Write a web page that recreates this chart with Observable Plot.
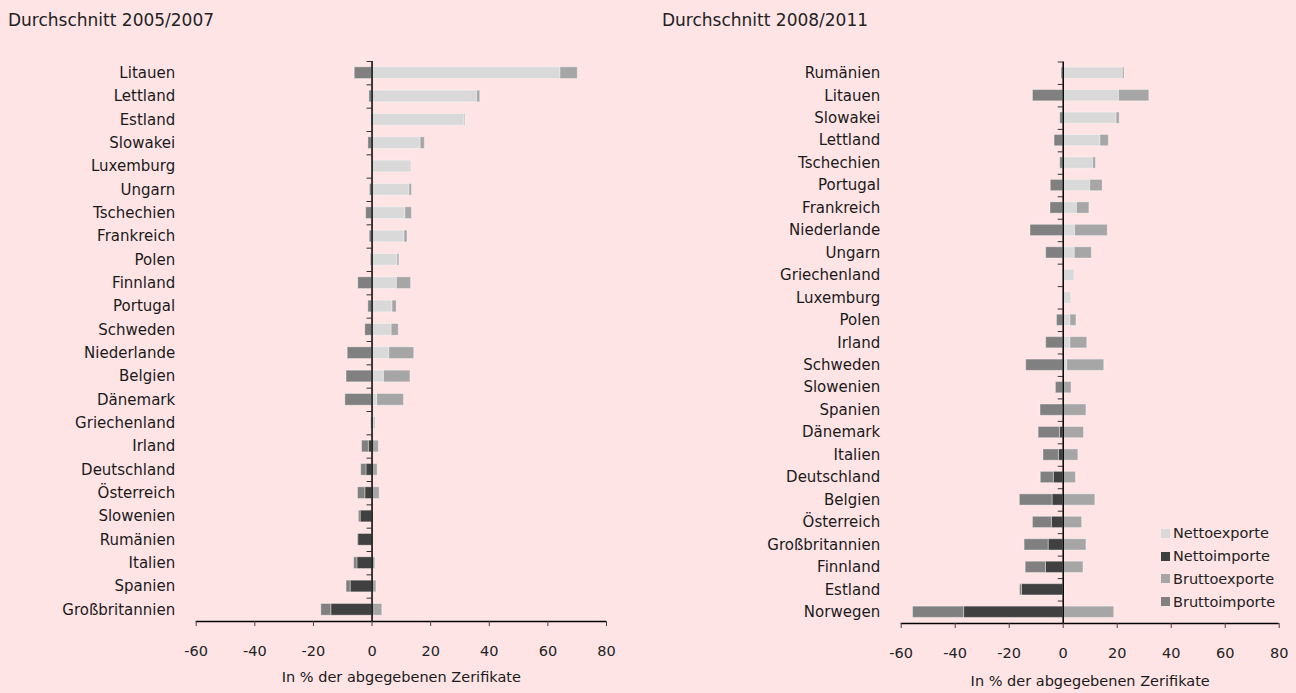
<!DOCTYPE html>
<html>
<head>
<meta charset="utf-8">
<script src="https://cdn.jsdelivr.net/npm/d3@7"></script>
<script src="https://cdn.jsdelivr.net/npm/@observablehq/plot@0.6"></script>
<style>
  html, body { margin: 0; padding: 0; }
  body { width: 1296px; height: 693px; background: rgb(255,228,230); position: relative; overflow: hidden;
         font-family: "DejaVu Sans", sans-serif; color: #222; }
  .title { position: absolute; font-size: 17px; line-height: 17px; white-space: nowrap; }
  .panel { position: absolute; top: 0; }
  .legend { position: absolute; left: 1161px; top: 522px; font-size: 14.5px; }
  .legend .row { height: 22.8px; display: flex; align-items: center; white-space: nowrap; }
  .legend .sw { width: 9px; height: 9px; margin-right: 3px; }
</style>
</head>
<body>
<div class="title" style="left:8px; top:12px;">Durchschnitt 2005/2007</div>
<div class="title" style="left:662px; top:12px;">Durchschnitt 2008/2011</div>
<div id="left" class="panel" style="left:0px;"></div>
<div id="right" class="panel" style="left:648px;"></div>
<div id="legend" class="legend"></div>
<script>
// ---------- Data ----------
const seriesNames = ["Nettoexporte", "Nettoimporte", "Bruttoexporte", "Bruttoimporte"];
const seriesColors = ["#d9d9d9", "#404040", "#a6a6a6", "#808080"];
const xTicks = [-60, -40, -20, 0, 20, 40, 60, 80];
const axisTitle = "In % der abgegebenen Zerifikate";

// Durchschnitt 2005/2007
const leftCountries = ["Litauen","Lettland","Estland","Slowakei","Luxemburg","Ungarn","Tschechien","Frankreich","Polen","Finnland","Portugal","Schweden","Niederlande","Belgien","Dänemark","Griechenland","Irland","Deutschland","Österreich","Slowenien","Rumänien","Italien","Spanien","Großbritannien"];
const leftNettoexporte  = [64.3, 35.9, 31.5, 16.6, 13.5, 12.8, 11.4, 11.1, 8.7, 8.5, 7.0, 6.7, 5.9, 4.1, 1.8, 0.7, 0, 0, 0, 0, 0, 0, 0, 0];
const leftNettoimporte  = [0, 0, 0, 0, 0, 0, 0, 0, 0, 0, 0, 0, 0, 0, 0, 0, 1.1, 1.9, 2.3, 3.9, 4.7, 5.0, 7.3, 13.9];
const leftBruttoexporte = [5.9, 1.0, 0.3, 1.4, 0, 0.8, 2.2, 1.0, 0.6, 4.8, 1.4, 2.4, 8.5, 9.0, 9.1, 0.4, 2.3, 1.9, 2.6, 0.45, 0.2, 1.1, 1.5, 3.5];
const leftBruttoimporte = [5.9, 0.9, 0.2, 1.25, 0, 0.7, 2.0, 0.8, 0.4, 4.7, 1.25, 2.3, 8.3, 8.7, 9.1, 0.3, 2.3, 1.8, 2.5, 0.6, 0.2, 1.1, 1.4, 3.4];

// Durchschnitt 2008/2011
const rightCountries = ["Rumänien","Litauen","Slowakei","Lettland","Tschechien","Portugal","Frankreich","Niederlande","Ungarn","Griechenland","Luxemburg","Polen","Irland","Schweden","Slowenien","Spanien","Dänemark","Italien","Deutschland","Belgien","Österreich","Großbritannien","Finnland","Estland","Norwegen"];
const rightNettoexporte  = [22.1, 20.7, 19.8, 13.8, 11.1, 10.0, 5.1, 4.4, 4.3, 4.2, 3.0, 2.7, 2.7, 1.5, 0.4, 0.2, 0, 0, 0, 0, 0, 0, 0, 0, 0];
const rightNettoimporte  = [0, 0, 0, 0, 0, 0, 0, 0, 0, 0, 0, 0, 0, 0, 0, 0, 1.2, 1.6, 3.5, 3.95, 4.2, 5.4, 6.4, 15.3, 36.7];
const rightBruttoexporte = [0.6, 11.2, 1.1, 3.1, 1.0, 4.6, 4.6, 12.1, 6.3, 0, 0, 2.2, 6.2, 13.7, 2.7, 8.4, 7.7, 5.6, 4.7, 11.9, 7.0, 8.6, 7.5, 0.4, 18.9];
const rightBruttoimporte = [0.6, 11.2, 1.1, 3.2, 1.1, 4.6, 4.7, 12.1, 6.3, 0, 0, 2.3, 6.3, 13.7, 2.7, 8.4, 7.9, 5.7, 4.8, 12.1, 7.0, 8.9, 7.5, 0.7, 18.9];

// ---------- Drawing ----------
function panel(opts) {
  const {countries, ne, ni, be, bi, marginLeft, marginRight, marginTop, marginBottom, tickLen, titleDy} = opts;
  const n = countries.length;
  const rows = countries.map((c, i) => ({c, i}));
  const segs = [];
  countries.forEach((c, i) => {
    segs.push({i, s: "Nettoexporte", x1: 0, x2: ne[i]});
    segs.push({i, s: "Bruttoexporte", x1: ne[i], x2: ne[i] + be[i]});
    segs.push({i, s: "Nettoimporte", x1: 0, x2: -ni[i]});
    segs.push({i, s: "Bruttoimporte", x1: -ni[i], x2: -ni[i] - bi[i]});
  });
  const bars = segs.filter(d => Math.abs(d.x2 - d.x1) > 0);
  const boundaries = d3.range(n).map(i => i - 0.5);
  return Plot.plot({
    width: 648,
    height: 693,
    marginLeft, marginRight, marginTop, marginBottom,
    style: {background: "transparent", fontFamily: "DejaVu Sans, sans-serif", fontSize: "14px", color: "#222", overflow: "visible"},
    x: {domain: [-60, 80], axis: null},
    y: {domain: [-0.5, n - 0.5], reverse: true, axis: null},
    color: {domain: seriesNames, range: seriesColors},
    marks: [
      Plot.rect(bars, {x1: "x1", x2: "x2", y1: d => d.i - 0.25, y2: d => d.i + 0.25, fill: "s",
                       stroke: "#ffffff", strokeOpacity: 0.35, strokeWidth: 1}),
      Plot.ruleY(boundaries, {y: d => d, x1: -tickLen, x2: 0, stroke: "#333", strokeWidth: 1}),
      Plot.ruleX([0], {stroke: "#000", strokeWidth: 1.5}),
      Plot.ruleY([n - 0.5], {stroke: "#000", strokeWidth: 1.3}),
      Plot.axisX(xTicks, {tickSize: 5, tickPadding: 19, tickFormat: d => String(d), fontSize: 14.5, stroke: "#444"}),
      Plot.text(rows, {y: "i", text: "c", frameAnchor: "left", textAnchor: "end", dx: -21, fontSize: 15, fill: "#1a1a1a"}),
      Plot.text([axisTitle], {text: d => d, frameAnchor: "bottom", dy: titleDy, fontSize: 14.5, fill: "#1a1a1a"})
    ]
  });
}

document.getElementById("left").appendChild(panel({
  countries: leftCountries, ne: leftNettoexporte, ni: leftNettoimporte, be: leftBruttoexporte, bi: leftBruttoimporte,
  marginLeft: 195.7, marginRight: 42, marginTop: 61, marginBottom: 72, tickLen: 1.7, titleDy: 60
}));
document.getElementById("right").appendChild(panel({
  countries: rightCountries, ne: rightNettoexporte, ni: rightNettoimporte, be: rightBruttoexporte, bi: rightBruttoimporte,
  marginLeft: 252.7, marginRight: 17.3, marginTop: 61.5, marginBottom: 70, tickLen: 1.85, titleDy: 62
}));

const legend = document.getElementById("legend");
seriesNames.forEach((name, k) => {
  const row = document.createElement("div");
  row.className = "row";
  const sw = document.createElement("span");
  sw.className = "sw";
  sw.style.background = seriesColors[k];
  const label = document.createElement("span");
  label.textContent = name;
  row.appendChild(sw);
  row.appendChild(label);
  legend.appendChild(row);
});
</script>
</body>
</html>
